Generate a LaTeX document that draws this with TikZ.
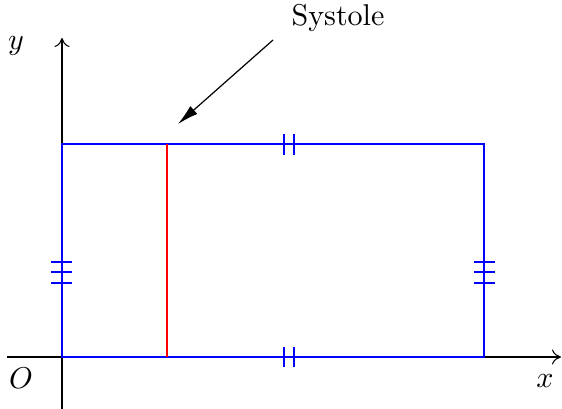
\documentclass[tikz,border=0pt]{standalone}
\usetikzlibrary{arrows.meta}
\begin{document}
\begin{tikzpicture}[x=0.01169cm,y=-0.01169cm,
  axis/.style={line width=0.35pt,-{To[length=3pt,width=5pt]}},
  edge/.style={blue,line width=0.65pt},
  tickmark/.style={blue,line width=0.65pt},
  lbl/.style={inner sep=0pt}]
\useasboundingbox (0,0) rectangle (562,409);
% axes
\coordinate (xs) at (7,357); \coordinate (xe) at (561,357);
\coordinate (ys) at (62,409); \coordinate (ye) at (62,38);
\draw[axis] (xs) -- (xe);
\draw[axis] (ys) -- (ye);
\node[lbl] (lx) at (545,381) {$x$};
\node[lbl] (ly) at (16,46) {$y$};
\node[lbl] (lo) at (21,378) {$O$};
% rectangle
\coordinate (A) at (62,357); \coordinate (B) at (484,357);
\coordinate (C) at (484,144); \coordinate (D) at (62,144);
\draw[edge] (A) -- (B) -- (C) -- (D) -- cycle;
% red systole
\coordinate (R1) at (167,357); \coordinate (R2) at (167,144);
\draw[red,line width=0.65pt] (R1) -- (R2);
% ticks top/bottom
\foreach \xx in {284,294}{
  \draw[tickmark] (\xx,134) -- (\xx,155);
  \draw[tickmark] (\xx,347) -- (\xx,367);
}
% ticks left/right
\foreach \yy in {262,272,283}{
  \draw[tickmark] (51,\yy) -- (72,\yy);
  \draw[tickmark] (474,\yy) -- (495,\yy);
}
% label
\node[lbl] (sys) at (338,18) {Systole};
\coordinate (as) at (273,40); \coordinate (ae) at (178,124);
\draw[line width=0.4pt,-{Latex[length=7pt,width=3.5pt]}] (as) -- (ae);
\end{tikzpicture}
\end{document}
